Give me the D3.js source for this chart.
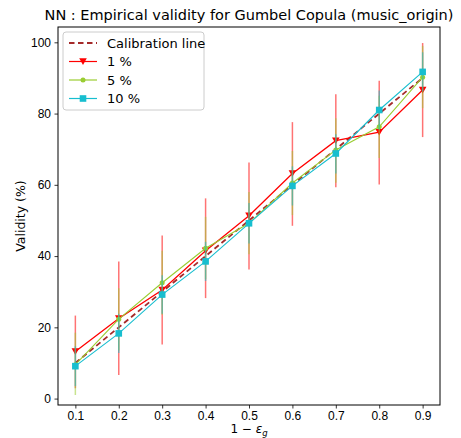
<!DOCTYPE html>
<html>
<head>
<meta charset="utf-8">
<script src="https://cdn.jsdelivr.net/npm/d3@7"></script>
<style>
  body { margin: 0; background: #fff; }
  svg { font-family: "DejaVu Sans", sans-serif; }
</style>
</head>
<body>
<svg id="chart" width="461" height="438"></svg>
<script>
const xs = [0.1, 0.2, 0.3, 0.4, 0.5, 0.6, 0.7, 0.8, 0.9];
const calibration = [10, 20, 30, 40, 50, 60, 70, 80, 90];

const v1 = [13.2, 22.5, 30.5, 41.5, 51.3, 63.2, 72.4, 74.8, 86.6];
const lo1 = [2.9, 6.6, 15.2, 28.2, 36.2, 48.5, 59.3, 60.1, 73.4];
const hi1 = [23.3, 38.5, 45.8, 56.2, 66.3, 77.6, 85.4, 89.2, 99.8];

const v5 = [9.5, 22.3, 32.5, 42.2, 49.2, 60.5, 69.8, 76.3, 90.2];
const lo5 = [1.0, 13.5, 23.5, 33.5, 40.5, 51.5, 60.6, 67.5, 81.5];
const hi5 = [18.5, 31.0, 41.5, 51.0, 58.0, 69.5, 78.7, 85.0, 99.0];

const v10 = [9.1, 18.3, 29.2, 38.5, 49.2, 59.7, 68.8, 81.0, 91.7];
const lo10 = [3.5, 12.8, 23.8, 33.0, 43.5, 54.2, 63.2, 75.5, 86.2];
const hi10 = [14.7, 23.8, 34.6, 44.0, 54.9, 65.2, 74.2, 86.5, 97.2];

const xTicks = [0.1, 0.2, 0.3, 0.4, 0.5, 0.6, 0.7, 0.8, 0.9];
const yTicks = [0, 20, 40, 60, 80, 100];

const svg = d3.select("#chart");
const mLeft = 58, mRight = 440, mTop = 27, mBottom = 405;

const x = d3.scaleLinear().domain([0.06, 0.94]).range([mLeft, mRight]);
const y = d3.scaleLinear().domain([-1.8, 104.3]).range([mBottom, mTop]);

// title
svg.append("text")
    .attr("x", (mLeft + mRight) / 2)
    .attr("y", 20)
    .attr("text-anchor", "middle")
    .attr("font-size", "14.5px")
    .text("NN : Empirical validity for Gumbel Copula (music_origin)");

// axes
svg.append("g")
    .attr("transform", `translate(0,${mBottom})`)
    .call(d3.axisBottom(x).tickValues(xTicks).tickFormat(d3.format(".1f")).tickSizeOuter(0).tickSize(3.5).tickPadding(2.5))
    .call(g => g.selectAll("text").attr("font-size", "12px").attr("fill", "#000"));
svg.append("g")
    .attr("transform", `translate(${mLeft},0)`)
    .call(d3.axisLeft(y).tickValues(yTicks).tickSizeOuter(0).tickSize(3.5).tickPadding(3.5))
    .call(g => g.selectAll("text").attr("font-size", "12px").attr("fill", "#000"));
svg.selectAll(".domain").remove();
svg.selectAll(".tick line").attr("stroke", "#000").attr("stroke-width", 0.8);

svg.append("rect")
    .attr("x", mLeft).attr("y", mTop)
    .attr("width", mRight - mLeft).attr("height", mBottom - mTop)
    .attr("fill", "none").attr("stroke", "#000").attr("stroke-width", 1);

svg.append("text")
    .attr("transform", `translate(25,${(mTop + mBottom) / 2}) rotate(-90)`)
    .attr("text-anchor", "middle")
    .attr("font-size", "12.5px")
    .text("Validity (%)");

const xl = svg.append("text")
    .attr("x", (mLeft + mRight) / 2)
    .attr("y", 433)
    .attr("text-anchor", "middle")
    .attr("font-size", "12px");
xl.append("tspan").text("1 \u2212 ");
xl.append("tspan").attr("font-style", "italic").text("\u03b5");
xl.append("tspan").attr("font-style", "italic").attr("font-size", "8.5px").attr("dy", 3).text("g");

const plot = svg.append("g");
const line = d3.line().x(d => x(d[0])).y(d => y(d[1]));

// calibration dashed line
plot.append("path")
    .attr("d", line(xs.map((d, i) => [d, calibration[i]])))
    .attr("fill", "none").attr("stroke", "#a52a2a")
    .attr("stroke-width", 1.8).attr("stroke-dasharray", "5.5,3.5");

const series = [
  { name: "1 %", vals: v1, lo: lo1, hi: hi1, color: "#ff0000", marker: "tri" },
  { name: "5 %", vals: v5, lo: lo5, hi: hi5, color: "#9acd32", marker: "dot" },
  { name: "10 %", vals: v10, lo: lo10, hi: hi10, color: "#17becf", marker: "sq" }
];

function drawMarker(g, type, cx, cy, color) {
  if (type === "tri") {
    g.append("path")
      .attr("d", `M${cx - 3.8},${cy - 3.2}L${cx + 3.8},${cy - 3.2}L${cx},${cy + 3.4}Z`)
      .attr("fill", color);
  } else if (type === "dot") {
    g.append("circle").attr("cx", cx).attr("cy", cy).attr("r", 2.5).attr("fill", color);
  } else {
    g.append("rect").attr("x", cx - 3.3).attr("y", cy - 3.3).attr("width", 6.6).attr("height", 6.6).attr("fill", color);
  }
}

series.forEach(s => {
  plot.selectAll(null)
    .data(xs)
    .enter()
    .append("line")
    .attr("x1", d => x(d)).attr("x2", d => x(d))
    .attr("y1", (d, i) => y(s.lo[i])).attr("y2", (d, i) => y(s.hi[i]))
    .attr("stroke", s.color).attr("stroke-width", 1.5).attr("stroke-opacity", 0.55);
  plot.append("path")
    .attr("d", line(xs.map((d, i) => [d, s.vals[i]])))
    .attr("fill", "none").attr("stroke", s.color).attr("stroke-width", s.marker === "tri" ? 1.3 : 1.1);
  xs.forEach((d, i) => drawMarker(plot, s.marker, x(d), y(s.vals[i]), s.color));
});

// legend
const lg = svg.append("g").attr("transform", "translate(63,32)");
lg.append("rect")
  .attr("width", 141).attr("height", 78).attr("rx", 3)
  .attr("fill", "#fff").attr("fill-opacity", 0.8)
  .attr("stroke", "#ccc").attr("stroke-width", 1);
const rows = [{ name: "Calibration line", color: "#a52a2a", dash: true }].concat(series);
rows.forEach((r, i) => {
  const cy = 11 + i * 18.5;
  lg.append("line")
    .attr("x1", 6).attr("x2", 34).attr("y1", cy).attr("y2", cy)
    .attr("stroke", r.color).attr("stroke-width", r.dash ? 1.8 : 1.2)
    .attr("stroke-dasharray", r.dash ? "5.5,3.5" : null);
  if (r.marker) drawMarker(lg, r.marker, 20, cy, r.color);
  lg.append("text")
    .attr("x", 44).attr("y", cy + 4.5)
    .attr("font-size", "13px")
    .text(r.name);
});
</script>
</body>
</html>
